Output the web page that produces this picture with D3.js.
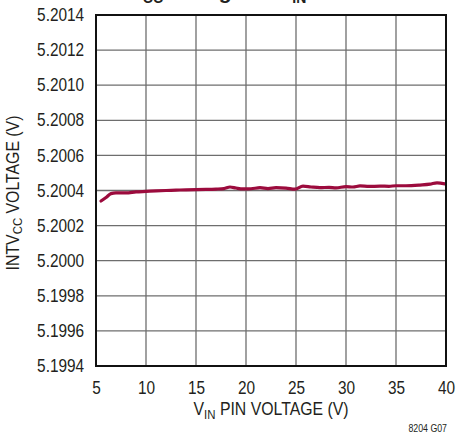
<!DOCTYPE html>
<html>
<head>
<meta charset="utf-8">
<script src="https://cdn.jsdelivr.net/npm/d3@7"></script>
<style>
  html, body { margin: 0; padding: 0; background: #fff; }
  svg { display: block; }
  text { font-family: "Liberation Sans", Arial, sans-serif; fill: #231f20; }
</style>
</head>
<body>
<svg id="chart" width="458" height="434"></svg>
<script>
// INTVCC voltage measured across the VIN pin range
const vinVolts = [5.5, 6.0, 6.5, 7.0, 8.0, 9.0, 10.0, 11.0, 12.0, 13.0, 14.0, 15.0, 16.0, 17.0, 17.8,
  18.4, 19.0, 19.7, 20.5, 21.4, 22.2, 23.0, 24.0, 24.9, 25.7, 26.5, 27.4, 28.3, 29.0, 30.0,
  30.7, 31.4, 32.3, 33.4, 34.3, 35.0, 36.0, 37.4, 38.4, 39.1, 39.9];
const intvccVolts = [5.20034, 5.20036, 5.200382, 5.200386, 5.200386, 5.200392, 5.200395, 5.200398,
  5.2004, 5.200402, 5.200404, 5.200405, 5.200406, 5.200408, 5.200411,
  5.20042, 5.200414, 5.200409, 5.20041, 5.200416, 5.200411, 5.200416, 5.200414, 5.200408,
  5.200425, 5.20042, 5.200416, 5.200418, 5.200415, 5.200422,
  5.20042, 5.200426, 5.200423, 5.200425, 5.200424, 5.200427, 5.200427, 5.200431, 5.200436,
  5.200444, 5.200438];
const xTicks = [5, 10, 15, 20, 25, 30, 35, 40];
const yTicks = [5.1994, 5.1996, 5.1998, 5.2000, 5.2002, 5.2004, 5.2006, 5.2008, 5.2010, 5.2012, 5.2014];

const svg = d3.select("#chart");
const plot = { left: 96, right: 446, top: 15, bottom: 366 };
const narrow = "scale(0.88,1)";

const x = d3.scaleLinear().domain([5, 40]).range([plot.left, plot.right]);
const y = d3.scaleLinear().domain([5.1994, 5.2014]).range([plot.bottom, plot.top]);

// Title, set high so only its descenders fall inside the page
const title = svg.append("text")
  .attr("x", 95).attr("y", -1)
  .attr("font-size", 21).attr("font-weight", "bold");
title.append("tspan").text("INTV");
title.append("tspan").attr("font-size", 14).attr("dy", 4).text("CC");
title.append("tspan").attr("dy", -4).text(" Voltage vs V");
title.append("tspan").attr("font-size", 14).attr("dy", 4).text("IN");

// Grid
const grid = svg.append("g");
grid.selectAll("line.v").data(xTicks.slice(1, -1)).join("line")
  .attr("x1", d => x(d)).attr("x2", d => x(d))
  .attr("y1", plot.top).attr("y2", plot.bottom)
  .attr("stroke", "#6e6e6e").attr("stroke-width", 1.3);
grid.selectAll("line.h").data(yTicks.slice(1, -1)).join("line")
  .attr("y1", d => y(d)).attr("y2", d => y(d))
  .attr("x1", plot.left).attr("x2", plot.right)
  .attr("stroke", "#6e6e6e").attr("stroke-width", 1.3);

// Data line
const line = d3.line().x((d, i) => x(vinVolts[i])).y(d => y(d)).curve(d3.curveMonotoneX);
svg.append("path")
  .attr("d", line(intvccVolts))
  .attr("fill", "none")
  .attr("stroke", "#9c0b3d")
  .attr("stroke-width", 3.2)
  .attr("stroke-linejoin", "round")
  .attr("stroke-linecap", "round");

// Frame
svg.append("rect")
  .attr("x", plot.left).attr("y", plot.top)
  .attr("width", plot.right - plot.left).attr("height", plot.bottom - plot.top)
  .attr("fill", "none").attr("stroke", "#111").attr("stroke-width", 2);

// Axes (labels only)
const xAxis = svg.append("g")
  .attr("transform", `translate(0,${plot.bottom})`)
  .call(d3.axisBottom(x).tickValues(xTicks).tickSize(0).tickPadding(16).tickFormat(d3.format("d")));
const yAxis = svg.append("g")
  .attr("transform", `translate(${plot.left},0)`)
  .call(d3.axisLeft(y).tickValues(yTicks).tickSize(0).tickPadding(13.5).tickFormat(d3.format(".4f")));
[xAxis, yAxis].forEach(a => {
  a.select(".domain").remove();
  a.selectAll("text")
    .attr("font-size", 17.5).attr("font-family", null).attr("fill", "#231f20")
    .attr("transform", narrow);
});

// X axis title
const xt = svg.append("text")
  .attr("transform", `translate(${(plot.left + plot.right) / 2},415) ${narrow}`)
  .attr("text-anchor", "middle").attr("font-size", 18);
xt.append("tspan").text("V");
xt.append("tspan").attr("font-size", 13).attr("dy", 3.5).text("IN");
xt.append("tspan").attr("dy", -3.5).text(" PIN VOLTAGE (V)");

// Y axis title
const yt = svg.append("text")
  .attr("transform", `translate(18.5,193) rotate(-90) ${narrow}`)
  .attr("text-anchor", "middle").attr("font-size", 18);
yt.append("tspan").text("INTV");
yt.append("tspan").attr("font-size", 13).attr("dy", 3.5).text("CC");
yt.append("tspan").attr("dy", -3.5).text(" VOLTAGE (V)");

// Figure code
svg.append("text")
  .attr("transform", `translate(447,432) ${narrow}`)
  .attr("text-anchor", "end").attr("font-size", 10)
  .text("8204 G07");
</script>
</body>
</html>
